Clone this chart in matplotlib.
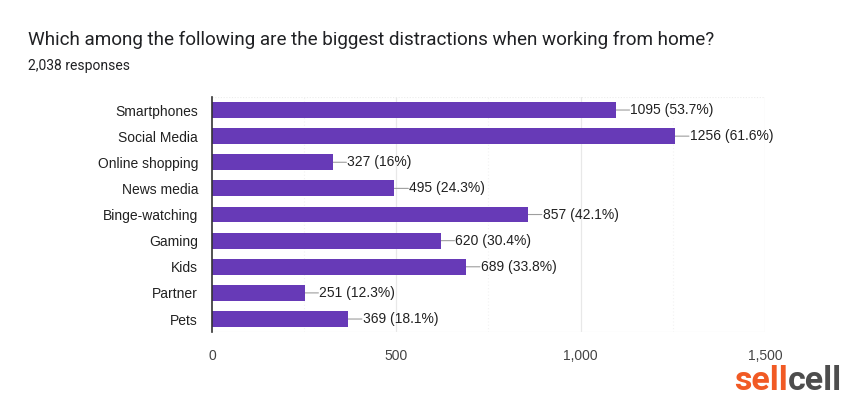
import matplotlib.pyplot as plt
from matplotlib.ticker import FuncFormatter

categories = ['Smartphones', 'Social Media', 'Online shopping', 'News media',
              'Binge-watching', 'Gaming', 'Kids', 'Partner', 'Pets']
counts = [1095, 1256, 327, 495, 857, 620, 689, 251, 369]
percents = ['53.7%', '61.6%', '16%', '24.3%', '42.1%', '30.4%', '33.8%', '12.3%', '18.1%']
title = 'Which among the following are the biggest distractions when working from home?'
subtitle = '2,038 responses'

fig = plt.figure(figsize=(8.5, 4.04), dpi=100)
ax = fig.add_axes([0.2494, 0.178, 0.6506, 0.582])

y = list(range(len(categories)))
ax.barh(y, counts, height=0.61, color='#673ab7', zorder=3)

# leader line + label
for yi, c, p in zip(y, counts, percents):
    ax.annotate('', xy=(c, yi), xytext=(10, 0), textcoords='offset points',
                arrowprops=dict(arrowstyle='-', color='#9e9e9e', lw=0.8,
                                shrinkA=0, shrinkB=0), zorder=2)
    ax.annotate('%d (%s)' % (c, p), xy=(c, yi), xytext=(10.5, 0),
                textcoords='offset points', va='center', ha='left',
                fontsize=10, color='#212121', family='Liberation Sans')

ax.set_xlim(0, 1500)
ax.set_ylim(len(categories) - 0.5, -0.5)
ax.set_yticks(y)
ax.set_yticklabels(categories, family='Liberation Sans', fontsize=10, color='#212121')
ax.set_xticks([0, 500, 1000, 1500])
ax.xaxis.set_major_formatter(FuncFormatter(lambda v, pos: '{:,}'.format(int(v))))
for lab in ax.get_xticklabels():
    lab.set_family('Liberation Sans')
    lab.set_fontsize(10)
    lab.set_color('#444444')
ax.tick_params(axis='both', length=0)
ax.tick_params(axis='y', pad=10)
ax.tick_params(axis='x', pad=12)

for v in [500, 1000, 1500]:
    ax.axvline(v, color='#e8e8e8', lw=0.9, zorder=1)
for v in [250, 750, 1250]:
    ax.axvline(v, color='#f2f2f2', lw=0.8, ls=(0, (1, 2)), zorder=1)
ax.axhline(-0.5, color='#ececec', lw=0.8, ls=(0, (1, 1.5)), zorder=1)
ax.axhline(len(categories) - 0.5, color='#ececec', lw=0.8, zorder=1)

for s in ['top', 'right', 'bottom']:
    ax.spines[s].set_visible(False)
ax.spines['left'].set_color('#333333')
ax.spines['left'].set_linewidth(1.2)
ax.spines['left'].set_zorder(4)

fig.text(28 / 850, 1 - 40 / 404, title, fontsize=13.6, family='Roboto',
         color='#202124', va='center', ha='left')
fig.text(28 / 850, 1 - 66 / 404, subtitle, fontsize=10, family='Roboto',
         color='#202124', va='center', ha='left')

# logo
fig.text(788 / 850, 1 - 381 / 404, 'sell', fontsize=24.5, fontweight='bold',
         family='Roboto', color='#f15a24', ha='right', va='center')
fig.text(788 / 850, 1 - 381 / 404, 'cell', fontsize=24.5, fontweight='bold',
         family='Roboto', color='#4d4d4d', ha='left', va='center')

fig.savefig('out.png', dpi=100)
